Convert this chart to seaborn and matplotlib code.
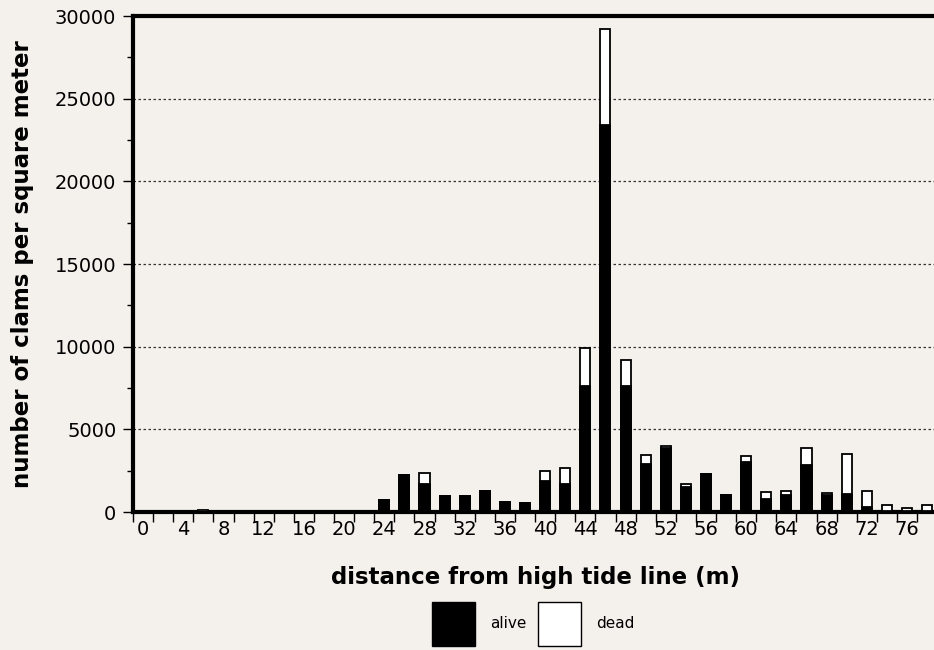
import numpy as np
import pandas as pd
import seaborn as sns
import matplotlib.pyplot as plt
from matplotlib.patches import Patch
from matplotlib.ticker import MultipleLocator, FixedLocator

# distance from high tide line (m), one category every 2 m
distance = list(range(0, 80, 2))
alive = [0, 0, 0, 0, 0, 0, 0, 0, 0, 0, 0, 60,
         700, 2250, 1720, 950, 990, 1250, 620, 560, 1880, 1680,
         7600, 23400, 7600, 2900, 3850, 1530, 2300, 1000, 3000, 800,
         1000, 2850, 1000, 1060, 290, 60, 40, 60]
dead = [0, 0, 0, 100, 0, 0, 0, 0, 0, 0, 0, 0,
        0, 0, 630, 0, 0, 0, 0, 0, 610, 1000,
        2300, 5800, 1600, 530, 170, 160, 0, 0, 370, 390,
        270, 1020, 140, 2450, 980, 390, 220, 390]
tick_labels = [str(d) for d in range(0, 80, 4)]

df = pd.DataFrame({"distance": distance, "alive": alive, "dead": dead})
df["total"] = df["alive"] + df["dead"]

bg = "#f4f0ec"
sns.set_style("white")
plt.rcParams["font.family"] = ["DejaVu Sans"]
for key in ["text.color", "axes.labelcolor", "xtick.color", "ytick.color"]:
    plt.rcParams[key] = "black"

fig = plt.figure(figsize=(9.34, 6.5), dpi=100, facecolor=bg)
ax = fig.add_axes([0.1424, 0.2123, 0.861, 0.763], facecolor=bg)

sns.barplot(data=df, x="distance", y="total", order=distance, color="white",
            edgecolor="black", linewidth=1.3, width=0.5, saturation=1, ax=ax, zorder=3)
sns.barplot(data=df, x="distance", y="alive", order=distance, color="black",
            edgecolor="black", linewidth=1.3, width=0.5, saturation=1, ax=ax, zorder=4)

ax.set_xlim(-0.5, len(distance) - 0.5)
ax.set_ylim(0, 30000)

# y axis
ax.set_yticks(range(0, 30001, 5000))
ax.yaxis.set_minor_locator(MultipleLocator(2500))
ax.tick_params(axis="y", which="major", length=7, width=1, labelsize=14, pad=5, left=True)
ax.tick_params(axis="y", which="minor", length=4, width=1, left=True)
for y in range(5000, 30000, 5000):
    ax.axhline(y, color="#333333", lw=0.9, ls=(0, (2, 2)), zorder=1)

# x axis: tick marks between categories, labels every 4 m
ax.set_xticks(range(0, len(distance), 2))
ax.set_xticklabels(tick_labels)
ax.xaxis.set_minor_locator(FixedLocator(np.arange(-0.5, len(distance), 1)))
ax.tick_params(axis="x", which="major", length=0, labelsize=14, pad=6)
ax.tick_params(axis="x", which="minor", length=7, width=1, bottom=True)

for side in ["left", "bottom", "top", "right"]:
    ax.spines[side].set_linewidth(3)
    ax.spines[side].set_color("black")

ax.set_xlabel("distance from high tide line (m)", fontsize=16.5, fontweight="bold", labelpad=19)
ax.set_ylabel("number of clams per square meter", fontsize=16.5, fontweight="bold", labelpad=15)

handles = [Patch(facecolor="black", edgecolor="black", label="alive"),
           Patch(facecolor="white", edgecolor="black", label="dead")]
fig.legend(handles=handles, loc="center", bbox_to_anchor=(0.571, 0.04), ncol=2,
           frameon=False, fontsize=11, handlelength=2.8, handleheight=4.0,
           handletextpad=1.0, columnspacing=0.8)

fig.savefig("out.png", dpi=100, facecolor=bg)
